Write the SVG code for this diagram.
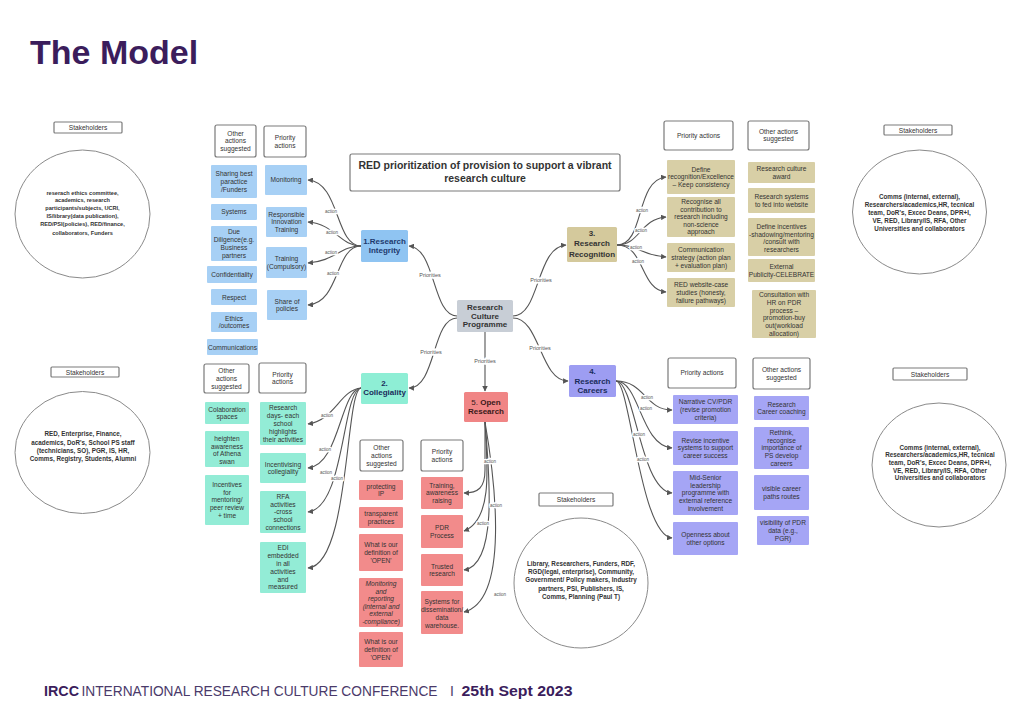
<svg xmlns="http://www.w3.org/2000/svg" width="1024" height="724" viewBox="0 0 1024 724">
<defs>
<marker id="ah" viewBox="0 0 10 10" refX="9" refY="5" markerWidth="5" markerHeight="5" orient="auto"><path d="M0,0 L10,5 L0,10 z" fill="#555"/></marker>
<style>
.hb{fill:#fff;stroke:#7a7a7a;stroke-width:1.2}
.b{fill:#a7d0f5}.t{fill:#d8cfa6}.g{fill:#93ecd6}.r{fill:#f28b8b}.p{fill:#a5a5f5}
.tx{font-family:"Liberation Sans",Arial,sans-serif;font-size:6.6px;fill:#333;text-anchor:middle}
.it{font-style:italic}
.nd{font-family:"Liberation Sans",Arial,sans-serif;font-size:8px;font-weight:bold;text-anchor:middle}
.st{font-family:"Liberation Sans",Arial,sans-serif;font-weight:bold;fill:#333;text-anchor:middle}
.circ{fill:#fff;stroke:#8a8a8a;stroke-width:1}
.con{fill:none;stroke:#555;stroke-width:1.1;marker-end:url(#ah)}
.lbl{font-family:"Liberation Sans",Arial,sans-serif;font-size:4.5px;fill:#555;text-anchor:middle;paint-order:stroke;stroke:#fff;stroke-width:2.5}
.pl{font-family:"Liberation Sans",Arial,sans-serif;font-size:5.5px;fill:#555;text-anchor:middle;paint-order:stroke;stroke:#fff;stroke-width:3}
</style>
</defs>
<rect width="1024" height="724" fill="#fff"/>
<text x="30" y="64" font-family="Liberation Sans,Arial,sans-serif" font-size="34" font-weight="bold" fill="#3b1d5c">The Model</text>

<g id="connectors">
<path class="con" d="M457,316 C432,316 436,248 409,246"/>
<path class="con" d="M513,316 C540,316 536,247 566,245"/>
<path class="con" d="M457,318 C432,318 436,388 409,388"/>
<path class="con" d="M485,332 L485,391"/>
<path class="con" d="M513,318 C540,318 540,381 568,381"/>
<text class="pl" x="430" y="277">Priorities</text>
<text class="pl" x="541" y="282">Priorities</text>
<text class="pl" x="431" y="354">Priorities</text>
<text class="pl" x="485" y="363">Priorities</text>
<text class="pl" x="540" y="350">Priorities</text>
<path class="con" d="M361,246 C335,246 340,182 308,180"/>
<path class="con" d="M361,246 C340,246 335,224 308,222"/>
<path class="con" d="M361,246 C340,246 335,261 308,263"/>
<path class="con" d="M361,246 C335,246 340,303 308,305"/>
<text class="lbl" x="331" y="213">action</text>
<text class="lbl" x="332" y="234">action</text>
<text class="lbl" x="331" y="254">action</text>
<text class="lbl" x="333" y="275">action</text>
<path class="con" d="M617,245 C645,245 635,180 666,177"/>
<path class="con" d="M617,245 C640,245 640,219 666,217"/>
<path class="con" d="M617,245 C640,245 640,255 666,257"/>
<path class="con" d="M617,245 C645,245 640,290 666,292"/>
<text class="lbl" x="642" y="212">action</text>
<text class="lbl" x="641" y="232">action</text>
<text class="lbl" x="636" y="249">action</text>
<text class="lbl" x="638" y="263">action</text>
<path class="con" d="M361,388 C340,390 335,420 308,424"/>
<path class="con" d="M361,388 C340,390 340,465 308,468"/>
<path class="con" d="M361,388 C342,390 345,508 308,512"/>
<path class="con" d="M361,388 C345,390 350,565 308,568"/>
<text class="lbl" x="327" y="417">action</text>
<text class="lbl" x="325" y="451">action</text>
<text class="lbl" x="326" y="474">action</text>
<text class="lbl" x="337" y="480">action</text>
<path class="con" d="M485,422 L485,470 C485,488 478,493 464,493"/>
<path class="con" d="M485,422 C488,470 492,520 464,531"/>
<path class="con" d="M485,422 C490,480 497,565 464,570"/>
<path class="con" d="M485,422 C495,480 510,600 464,612"/>
<text class="lbl" x="490" y="463">action</text>
<text class="lbl" x="496" y="507">action</text>
<text class="lbl" x="483" y="525">action</text>
<text class="lbl" x="500" y="596">action</text>
<path class="con" d="M616,381 C645,381 645,410 672,410"/>
<path class="con" d="M616,381 C640,381 640,445 672,448"/>
<path class="con" d="M616,381 C635,381 640,490 672,493"/>
<path class="con" d="M616,381 C630,381 640,535 672,538"/>
<text class="lbl" x="647" y="399">action</text>
<text class="lbl" x="646" y="410">action</text>
<text class="lbl" x="639" y="436">action</text>
<text class="lbl" x="643" y="461">action</text>
</g>

<g id="red-title"><rect class="hb" x="350" y="154" width="270" height="37" rx="2"/>
<text class="st" font-size="10.5" x="485" y="169">RED prioritization of provision to support a vibrant</text>
<text class="st" font-size="10.5" x="485" y="182">research culture</text></g>

<g id="rcp"><rect x="457" y="300" width="56" height="32" rx="1.5" fill="#c8ced6"/>
<text class="nd" fill="#333" x="485" y="310">Research</text><text class="nd" fill="#333" x="485" y="318.6">Culture</text><text class="nd" fill="#333" x="485" y="327.2">Programme</text></g>

<!-- Stakeholders -->
<g id="stk-tl"><rect class="hb" x="54" y="122" width="68" height="11" rx="1"/><text class="tx" x="88" y="130">Stakeholders</text>
<ellipse class="circ" cx="82.5" cy="214" rx="67.5" ry="64"/>
<text class="st" font-size="5.6" x="82.5" y="194.5">reserach ethics committee,</text>
<text class="st" font-size="5.6" x="82.5" y="202.2">academics, research</text>
<text class="st" font-size="5.6" x="82.5" y="210">participants/subjects, UCRI,</text>
<text class="st" font-size="5.6" x="82.5" y="218">IS/library(data publication),</text>
<text class="st" font-size="5.6" x="82.5" y="226">RED/PSI(policies), RED/finance,</text>
<text class="st" font-size="5.6" x="82.5" y="234.5">collaborators, Funders</text></g>

<g id="stk-bl"><rect class="hb" x="51" y="367" width="68" height="10" rx="1"/><text class="tx" x="85" y="374.5">Stakeholders</text>
<ellipse class="circ" cx="82.5" cy="452.5" rx="67.5" ry="61"/>
<text class="st" font-size="6.3" x="83" y="436.3">RED, Enterprise, Finance,</text>
<text class="st" font-size="6.3" x="83" y="444.6">academics, DoR's, School PS staff</text>
<text class="st" font-size="6.3" x="83" y="453">(technicians, SO), PGR, IS, HR,</text>
<text class="st" font-size="6.3" x="83" y="461.3">Comms, Registry, Students, Alumni</text></g>

<g id="stk-tr"><rect class="hb" x="884" y="125" width="68" height="10" rx="1"/><text class="tx" x="918" y="132.5">Stakeholders</text>
<ellipse class="circ" cx="919.5" cy="212" rx="67" ry="62"/>
<text class="st" font-size="6.3" x="919.5" y="198.5">Comms (internal, external),</text>
<text class="st" font-size="6.3" x="919.5" y="206.5">Researchers/academics,HR, tecnical</text>
<text class="st" font-size="6.3" x="919.5" y="214.5">team, DoR's, Excec Deans, DPR+I,</text>
<text class="st" font-size="6.3" x="919.5" y="222.5">VE, RED, Library/IS, RFA, Other</text>
<text class="st" font-size="6.3" x="919.5" y="230.5">Universities and collaborators</text></g>

<g id="stk-br"><rect class="hb" x="893" y="368" width="74" height="12" rx="1"/><text class="tx" x="930" y="376.5">Stakeholders</text>
<ellipse class="circ" cx="939" cy="465" rx="67" ry="62"/>
<text class="st" font-size="6.3" x="940" y="449.5">Comms (internal, external),</text>
<text class="st" font-size="6.3" x="940" y="457.2">Researchers/academics,HR, tecnical</text>
<text class="st" font-size="6.3" x="940" y="464.9">team, DoR's, Excec Deans, DPR+I,</text>
<text class="st" font-size="6.3" x="940" y="472.6">VE, RED, Library/IS, RFA, Other</text>
<text class="st" font-size="6.3" x="940" y="480.3">Universities and collaborators</text></g>

<g id="stk-bc"><rect class="hb" x="539" y="493" width="74" height="13" rx="1"/><text class="tx" x="576" y="502">Stakeholders</text>
<ellipse class="circ" cx="581" cy="583" rx="67" ry="65"/>
<text class="st" font-size="6.3" x="581" y="565.6">Library, Researchers, Funders, RDF,</text>
<text class="st" font-size="6.3" x="581" y="574">RGD(legal, enterprise), Community,</text>
<text class="st" font-size="6.3" x="581" y="582.3">Government/ Policy makers, Industry</text>
<text class="st" font-size="6.3" x="581" y="590.6">partners, PSI, Publishers, IS,</text>
<text class="st" font-size="6.3" x="581" y="599">Comms, Planning (Paul T)</text></g>

<!-- Integrity -->
<g id="integrity"><rect x="361" y="230" width="47" height="32" rx="1.5" fill="#8fc4f2"/>
<text class="nd" fill="#1e3a6e" x="384.5" y="244.3">1.Research</text><text class="nd" fill="#1e3a6e" x="384.5" y="253.3">Integrity</text></g>
<g id="int-hdr-other"><rect class="hb" x="215" y="125" width="41" height="32" rx="2"/><text class="tx" x="235.5" y="135.6">Other</text><text class="tx" x="235.5" y="143.4">actions</text><text class="tx" x="235.5" y="151.2">suggested</text></g>
<g id="int-hdr-pri"><rect class="hb" x="264" y="126" width="42" height="31" rx="2"/><text class="tx" x="285" y="140">Priority</text><text class="tx" x="285" y="147.8">actions</text></g>
<g id="int-o1"><rect class="b" x="211" y="165" width="46" height="33" rx="1"/><text class="tx" x="234" y="176">Sharing best</text><text class="tx" x="234" y="184">paractice</text><text class="tx" x="234" y="192">/Funders</text></g>
<g id="int-o2"><rect class="b" x="211" y="204" width="46" height="16" rx="1"/><text class="tx" x="234" y="214.4">Systems</text></g>
<g id="int-o3"><rect class="b" x="211" y="226" width="46" height="35" rx="1"/><text class="tx" x="234" y="234.2">Due</text><text class="tx" x="234" y="242">Diligence(e.g.</text><text class="tx" x="234" y="249.8">Business</text><text class="tx" x="234" y="257.6">partners</text></g>
<g id="int-o4"><rect class="b" x="207" y="266" width="50" height="17" rx="1"/><text class="tx" x="232" y="277">Confidentiality</text></g>
<g id="int-o5"><rect class="b" x="211" y="289" width="46" height="16" rx="1"/><text class="tx" x="234" y="299.5">Respect</text></g>
<g id="int-o6"><rect class="b" x="211" y="312" width="46" height="20" rx="1"/><text class="tx" x="234" y="320.5">Ethics</text><text class="tx" x="234" y="328.3">/outcomes</text></g>
<g id="int-o7"><rect class="b" x="207" y="339" width="51" height="16" rx="1"/><text class="tx" x="232.5" y="349.5">Communications</text></g>
<g id="int-p1"><rect class="b" x="265" y="165" width="42" height="30" rx="1"/><text class="tx" x="286" y="182.4">Monitoring</text></g>
<g id="int-p2"><rect class="b" x="266" y="207" width="41" height="30" rx="1"/><text class="tx" x="286.5" y="216.6">Responsible</text><text class="tx" x="286.5" y="224.4">Innovation</text><text class="tx" x="286.5" y="232.2">Training</text></g>
<g id="int-p3"><rect class="b" x="266" y="247" width="41" height="31" rx="1"/><text class="tx" x="286.5" y="261">Training</text><text class="tx" x="286.5" y="268.8">(Compulsory)</text></g>
<g id="int-p4"><rect class="b" x="267" y="290" width="40" height="30" rx="1"/><text class="tx" x="287" y="303.5">Share of</text><text class="tx" x="287" y="311.3">policies</text></g>

<!-- Recognition -->
<g id="recognition"><rect x="567" y="227" width="50" height="35" rx="1.5" fill="#d4c99c"/>
<text class="nd" fill="#333" x="592" y="235.5" font-weight="normal">3.</text><text class="nd" fill="#333" x="592" y="246">Research</text><text class="nd" fill="#333" x="592" y="256.5">Recognition</text></g>
<g id="rec-hdr-pri"><rect class="hb" x="664" y="121" width="69" height="29" rx="2"/><text class="tx" x="698.5" y="138">Priority actions</text></g>
<g id="rec-hdr-other"><rect class="hb" x="748" y="121" width="61" height="29" rx="2"/><text class="tx" x="778.5" y="133.5">Other actions</text><text class="tx" x="778.5" y="141.3">suggested</text></g>
<g id="rec-p1"><rect class="t" x="667" y="160" width="68" height="34" rx="1"/><text class="tx" x="701" y="171.6">Define</text><text class="tx" x="701" y="179.4">recognition/Excellence</text><text class="tx" x="701" y="187.2">– Keep consistency</text></g>
<g id="rec-p2"><rect class="t" x="667" y="197" width="68" height="40" rx="1"/><text class="tx" x="701" y="204.4">Recognise all</text><text class="tx" x="701" y="211.9">contribution to</text><text class="tx" x="701" y="219.4">research including</text><text class="tx" x="701" y="226.9">non-science</text><text class="tx" x="701" y="234.4">approach</text></g>
<g id="rec-p3"><rect class="t" x="667" y="243" width="68" height="29" rx="1"/><text class="tx" x="701" y="252.1">Communication</text><text class="tx" x="701" y="259.9">strategy (action plan</text><text class="tx" x="701" y="267.7">+ evaluation plan)</text></g>
<g id="rec-p4"><rect class="t" x="667" y="278" width="68" height="29" rx="1"/><text class="tx" x="701" y="287.1">RED website-case</text><text class="tx" x="701" y="294.9">studies (honesty,</text><text class="tx" x="701" y="302.7">failure pathways)</text></g>
<g id="rec-o1"><rect class="t" x="748" y="162" width="67" height="21" rx="1"/><text class="tx" x="781.5" y="171">Research culture</text><text class="tx" x="781.5" y="178.8">award</text></g>
<g id="rec-o2"><rect class="t" x="748" y="188" width="67" height="25" rx="1"/><text class="tx" x="781.5" y="199">Research systems</text><text class="tx" x="781.5" y="206.8">to fed into website</text></g>
<g id="rec-o3"><rect class="t" x="748" y="218" width="67" height="38" rx="1"/><text class="tx" x="781.5" y="228.7">Define incentives</text><text class="tx" x="781.5" y="236.5">-shadowing/mentoring</text><text class="tx" x="781.5" y="244.3">/consult with</text><text class="tx" x="781.5" y="252.1">researchers</text></g>
<g id="rec-o4"><rect class="t" x="748" y="259" width="67" height="23" rx="1"/><text class="tx" x="781.5" y="269">External</text><text class="tx" x="781.5" y="276.8">Publicity-CELEBRATE</text></g>
<g id="rec-o5"><rect class="t" x="752" y="290" width="64" height="48" rx="1"/><text class="tx" x="784" y="297">Consultation with</text><text class="tx" x="784" y="304.8">HR on PDR</text><text class="tx" x="784" y="312.6">process –</text><text class="tx" x="784" y="320.4">promotion-buy</text><text class="tx" x="784" y="328.2">out(workload</text><text class="tx" x="784" y="336">allocation)</text></g>

<!-- Collegiality -->
<g id="collegiality"><rect x="361" y="373" width="47" height="31" rx="1.5" fill="#8eeed5"/>
<text class="nd" fill="#1a2c5b" x="384.5" y="386">2.</text><text class="nd" fill="#1a2c5b" x="384.5" y="395">Collegiality</text></g>
<g id="col-hdr-other"><rect class="hb" x="204" y="364" width="45" height="29" rx="2"/><text class="tx" x="226.5" y="373.1">Other</text><text class="tx" x="226.5" y="380.9">actions</text><text class="tx" x="226.5" y="388.7">suggested</text></g>
<g id="col-hdr-pri"><rect class="hb" x="259" y="363" width="47" height="30" rx="2"/><text class="tx" x="282.5" y="376.5">Priority</text><text class="tx" x="282.5" y="384.3">actions</text></g>
<g id="col-o1"><rect class="g" x="205" y="402" width="44" height="22" rx="1"/><text class="tx" x="227" y="411.5">Colaboration</text><text class="tx" x="227" y="419.3">spaces</text></g>
<g id="col-o2"><rect class="g" x="205" y="431" width="44" height="36" rx="1"/><text class="tx" x="227" y="440.7">heighten</text><text class="tx" x="227" y="448.5">awareness</text><text class="tx" x="227" y="456.3">of Athena</text><text class="tx" x="227" y="464.1">swan</text></g>
<g id="col-o3"><rect class="g" x="205" y="475" width="44" height="50" rx="1"/><text class="tx" x="227" y="486.8">Incentives</text><text class="tx" x="227" y="494.6">for</text><text class="tx" x="227" y="502.4">mentoring/</text><text class="tx" x="227" y="510.2">peer review</text><text class="tx" x="227" y="518">+ time</text></g>
<g id="col-p1"><rect class="g" x="260" y="402" width="46" height="43" rx="1"/><text class="tx" x="283" y="410.3">Research</text><text class="tx" x="283" y="418.1">days- each</text><text class="tx" x="283" y="425.9">school</text><text class="tx" x="283" y="433.7">highlights</text><text class="tx" x="283" y="441.5">their activities</text></g>
<g id="col-p2"><rect class="g" x="260" y="453" width="46" height="30" rx="1"/><text class="tx" x="283" y="466.5">Incentivising</text><text class="tx" x="283" y="474.3">collegiality</text></g>
<g id="col-p3"><rect class="g" x="260" y="491" width="46" height="42" rx="1"/><text class="tx" x="283" y="498.8">RFA</text><text class="tx" x="283" y="506.6">activities</text><text class="tx" x="283" y="514.4">-cross</text><text class="tx" x="283" y="522.2">school</text><text class="tx" x="283" y="530">connections</text></g>
<g id="col-p4"><rect class="g" x="260" y="542" width="46" height="51" rx="1"/><text class="tx" x="283" y="550.4">EDI</text><text class="tx" x="283" y="558.2">embedded</text><text class="tx" x="283" y="566">in all</text><text class="tx" x="283" y="573.8">activities</text><text class="tx" x="283" y="581.6">and</text><text class="tx" x="283" y="589.4">measured</text></g>

<!-- Open Research -->
<g id="open-research"><rect x="464" y="392" width="44" height="30" rx="1.5" fill="#f08585"/>
<text class="nd" fill="#3a1a1a" x="486" y="404.5"><tspan font-weight="normal">5. </tspan>Open</text><text class="nd" fill="#3a1a1a" x="486" y="413.5">Research</text></g>
<g id="or-hdr-other"><rect class="hb" x="360" y="440" width="43" height="31" rx="2"/><text class="tx" x="381.5" y="450">Other</text><text class="tx" x="381.5" y="457.8">actions</text><text class="tx" x="381.5" y="465.6">suggested</text></g>
<g id="or-hdr-pri"><rect class="hb" x="421" y="440" width="42" height="31" rx="2"/><text class="tx" x="442" y="454">Priority</text><text class="tx" x="442" y="461.8">actions</text></g>
<g id="or-o1"><rect class="r" x="359" y="480" width="44" height="20" rx="1"/><text class="tx" x="381" y="488.5">protecting</text><text class="tx" x="381" y="496.3">IP</text></g>
<g id="or-o2"><rect class="r" x="359" y="507" width="44" height="21" rx="1"/><text class="tx" x="381" y="516">transparent</text><text class="tx" x="381" y="523.8">practices</text></g>
<g id="or-o3"><rect class="r" x="359" y="534" width="44" height="37" rx="1"/><text class="tx" x="381" y="547.1">What is  our</text><text class="tx" x="381" y="554.9">definition of</text><text class="tx" x="381" y="562.7">'OPEN'</text></g>
<g id="or-o4"><rect class="r" x="359" y="578" width="44" height="49" rx="1"/><text class="tx it" x="381" y="585.9">Monitoring</text><text class="tx it" x="381" y="593.5">and</text><text class="tx it" x="381" y="601.1">reporting</text><text class="tx it" x="381" y="608.7">(internal and</text><text class="tx it" x="381" y="616.3">external</text><text class="tx it" x="381" y="623.9">-compliance)</text></g>
<g id="or-o5"><rect class="r" x="359" y="632" width="44" height="35" rx="1"/><text class="tx" x="381" y="644.1">What is  our</text><text class="tx" x="381" y="651.9">definition of</text><text class="tx" x="381" y="659.7">'OPEN'</text></g>
<g id="or-p1"><rect class="r" x="421" y="477" width="42" height="32" rx="1"/><text class="tx" x="442" y="487.6">Training,</text><text class="tx" x="442" y="495.4">awareness</text><text class="tx" x="442" y="503.2">raising</text></g>
<g id="or-p2"><rect class="r" x="421" y="515" width="42" height="33" rx="1"/><text class="tx" x="442" y="530">PDR</text><text class="tx" x="442" y="537.8">Process</text></g>
<g id="or-p3"><rect class="r" x="421" y="554" width="42" height="32" rx="1"/><text class="tx" x="442" y="568.5">Trusted</text><text class="tx" x="442" y="576.3">research</text></g>
<g id="or-p4"><rect class="r" x="421" y="591" width="42" height="43" rx="1"/><text class="tx" x="442" y="604.2">Systems for</text><text class="tx" x="442" y="612">dissemination/</text><text class="tx" x="442" y="619.8">data</text><text class="tx" x="442" y="627.6">warehouse.</text></g>

<!-- Careers -->
<g id="careers"><rect x="569" y="365" width="47" height="32" rx="1.5" fill="#9d9df2"/>
<text class="nd" fill="#1a2c5b" x="592.5" y="374.3">4.</text><text class="nd" fill="#1a2c5b" x="592.5" y="383.8">Research</text><text class="nd" fill="#1a2c5b" x="592.5" y="393.3">Careers</text></g>
<g id="car-hdr-pri"><rect class="hb" x="668" y="358" width="68" height="30" rx="2"/><text class="tx" x="702" y="375.4">Priority actions</text></g>
<g id="car-hdr-other"><rect class="hb" x="753" y="358" width="57" height="31" rx="2"/><text class="tx" x="781.5" y="372">Other actions</text><text class="tx" x="781.5" y="379.8">suggested</text></g>
<g id="car-p1"><rect class="p" x="673" y="395" width="65" height="29" rx="1"/><text class="tx" x="705.5" y="404.1">Narrative CV/PDR</text><text class="tx" x="705.5" y="411.9">(revise promotion</text><text class="tx" x="705.5" y="419.7">criteria)</text></g>
<g id="car-p2"><rect class="p" x="673" y="431" width="65" height="34" rx="1"/><text class="tx" x="705.5" y="442.6">Revise incentive</text><text class="tx" x="705.5" y="450.4">systems to support</text><text class="tx" x="705.5" y="458.2">career success</text></g>
<g id="car-p3"><rect class="p" x="673" y="471" width="65" height="44" rx="1"/><text class="tx" x="705.5" y="479.8">Mid-Senior</text><text class="tx" x="705.5" y="487.6">leadership</text><text class="tx" x="705.5" y="495.4">programme with</text><text class="tx" x="705.5" y="503.2">external reference</text><text class="tx" x="705.5" y="511">involvement</text></g>
<g id="car-p4"><rect class="p" x="673" y="522" width="65" height="33" rx="1"/><text class="tx" x="705.5" y="537">Openness about</text><text class="tx" x="705.5" y="544.8">other options</text></g>
<g id="car-o1"><rect class="p" x="754" y="396" width="55" height="24" rx="1"/><text class="tx" x="781.5" y="406.5">Research</text><text class="tx" x="781.5" y="414.3">Career coaching</text></g>
<g id="car-o2"><rect class="p" x="754" y="427" width="55" height="42" rx="1"/><text class="tx" x="781.5" y="434.8">Rethink,</text><text class="tx" x="781.5" y="442.6">recognise</text><text class="tx" x="781.5" y="450.4">importance of</text><text class="tx" x="781.5" y="458.2">PS develop</text><text class="tx" x="781.5" y="466">careers</text></g>
<g id="car-o3"><rect class="p" x="754" y="475" width="55" height="35" rx="1"/><text class="tx" x="781.5" y="491">visible career</text><text class="tx" x="781.5" y="498.8">paths routes</text></g>
<g id="car-o4"><rect class="p" x="757" y="516" width="52" height="29" rx="1"/><text class="tx" x="783" y="525.1">visibility of PDR</text><text class="tx" x="783" y="532.9">data (e.g.,</text><text class="tx" x="783" y="540.7">PGR)</text></g>

<g id="footer" font-family="Liberation Sans,Arial,sans-serif" font-size="14">
<text x="44" y="696" font-weight="bold" fill="#3b1d5c" textLength="35" lengthAdjust="spacingAndGlyphs">IRCC</text>
<text x="81.5" y="696" fill="#4a3a6a" textLength="356" lengthAdjust="spacingAndGlyphs">INTERNATIONAL RESEARCH CULTURE CONFERENCE</text>
<text x="450" y="696" fill="#4a3a6a">I</text>
<text x="461.5" y="696" font-weight="bold" fill="#3b1d5c" textLength="111" lengthAdjust="spacingAndGlyphs">25th Sept 2023</text>
</g>
</svg>
